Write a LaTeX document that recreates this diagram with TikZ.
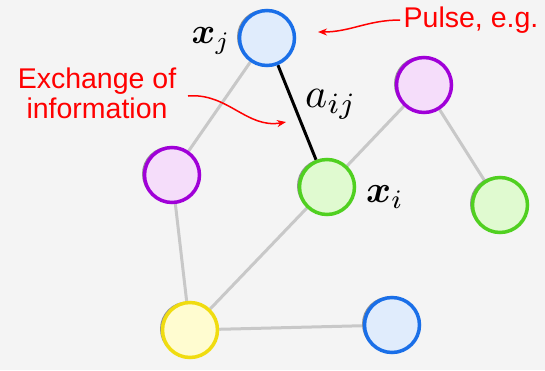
\documentclass[tikz,border=0pt]{standalone}
\usepackage{amsmath,bm}
\usepackage{graphicx}
\usepackage{fontspec}
\setmainfont{Liberation Sans}
\usetikzlibrary{shadows,arrows.meta}
\pgfdeclarelayer{background}
\pgfdeclarelayer{edges}
\pgfsetlayers{background,edges,main}
\definecolor{bg}{HTML}{F4F4F4}
\definecolor{edgegray}{HTML}{C8C8C8}
\definecolor{blueline}{HTML}{1A6FE8}
\definecolor{bluefill}{HTML}{E0ECFC}
\definecolor{pinkline}{HTML}{A000D8}
\definecolor{pinkfill}{HTML}{F5DDFA}
\definecolor{greenline}{HTML}{50D020}
\definecolor{greenfill}{HTML}{E0FAD0}
\definecolor{yellowline}{HTML}{F0DC10}
\definecolor{yellowfill}{HTML}{FFFCD0}
\newcommand{\mbig}[2][3.6]{\scalebox{#1}{$#2$}}
\tikzset{
  agent/.style={circle,minimum size=55pt,inner sep=0pt,line width=3.5pt,
    drop shadow={shadow xshift=-2.5pt,shadow yshift=1pt,fill=gray!85,opacity=1}},
  blueagent/.style={agent,draw=blueline,fill=bluefill},
  pinkagent/.style={agent,draw=pinkline,fill=pinkfill},
  greenagent/.style={agent,draw=greenline,fill=greenfill},
  yellowagent/.style={agent,draw=yellowline,fill=yellowfill},
  link/.style={line width=3pt,edgegray},
  note/.style={text=red,font=\fontsize{28.5}{30}\selectfont,align=center},
  mlabel/.style={inner sep=0pt}
}
\begin{document}
\begin{tikzpicture}[x=1pt,y=-1pt]
\begin{pgfonlayer}{background}
    \fill[bg] (0,0) rectangle (545,370);
\end{pgfonlayer}
    \useasboundingbox (0,0) rectangle (545,370);
    % agents
    \node[blueagent] (xj) at (267,38) {};
    \node[pinkagent] (pl) at (172,175) {};
    \node[greenagent] (xi) at (327,187) {};
    \node[pinkagent] (pr) at (424,85) {};
    \node[greenagent] (gr) at (500,205) {};
    \node[yellowagent] (ye) at (190,330) {};
    \node[blueagent] (bb) at (392,325) {};
    % links
\begin{pgfonlayer}{edges}
    \draw[link] (xj)--(pl);
    \draw[link] (pl)--(ye);
    \draw[link] (ye)--(xi);
    \draw[link] (xi)--(pr);
    \draw[link] (pr)--(gr);
    \draw[link] (ye)--(bb);
    \draw[line width=3pt] (xj)--(xi);
\end{pgfonlayer}
    % labels
    \node[mlabel] (lj) at (211,41) {\mbig{\bm{x}_j}};
    \node[mlabel] (la) at (331,104) {\mbig[4.2]{a_{ij}}};
    \node[mlabel] (li) at (385,197) {\mbig[3.8]{\bm{x}_i}};
    \node[note] (pulse) at (471,20) {Pulse, e.g.};
    \node[note] (exch) at (97,93) {Exchange of\\information};
    \coordinate (pulsetip) at (318,32);
    \coordinate (exchtip) at (286,122);
    \coordinate (exchstart) at (188,96);
    \draw[red,line width=1.5pt,-{Stealth[length=9pt,width=7pt]}] (pulse.west) to[out=180,in=0] (pulsetip);
    \draw[red,line width=1.5pt,-{Stealth[length=9pt,width=7pt]}] (exchstart) to[out=5,in=190] (exchtip);
\end{tikzpicture}
\end{document}
